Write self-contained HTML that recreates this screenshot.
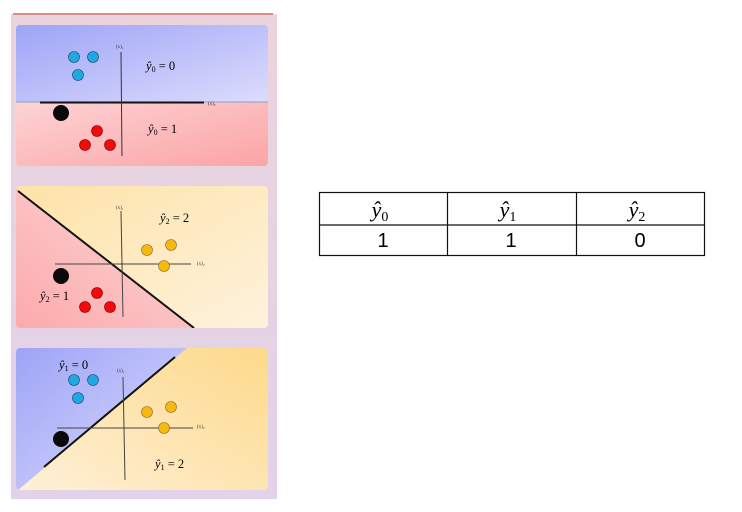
<!DOCTYPE html>
<html><head><meta charset="utf-8"><style>
body{margin:0;background:#fff;width:742px;height:512px;overflow:hidden;font-family:"Liberation Serif",serif}
svg{position:absolute;left:0;top:0}
</style></head><body>
<svg width="742" height="512">
<defs>
<linearGradient id="bg" x1="0" y1="0" x2="0" y2="1"><stop offset="0" stop-color="#ead3dc"/><stop offset="1" stop-color="#e2d3ea"/></linearGradient>
<linearGradient id="blue" x1="0" y1="0" x2="1" y2="1"><stop offset="0" stop-color="#9ea4f7"/><stop offset="1" stop-color="#dcdcfc"/></linearGradient>
<linearGradient id="pink" x1="0" y1="0" x2="1" y2="1"><stop offset="0" stop-color="#fdd3d5"/><stop offset="1" stop-color="#fca4a5"/></linearGradient>
<linearGradient id="pink2" x1="1" y1="0" x2="0" y2="1"><stop offset="0" stop-color="#fdd8da"/><stop offset="1" stop-color="#fcaaab"/></linearGradient>
<linearGradient id="yel" x1="0" y1="0" x2="1" y2="1"><stop offset="0" stop-color="#fde3a8"/><stop offset="1" stop-color="#fef2dc"/></linearGradient>
<linearGradient id="yel2" x1="0" y1="1" x2="1" y2="0"><stop offset="0" stop-color="#fef0d8"/><stop offset="1" stop-color="#fdd98a"/></linearGradient>
<clipPath id="c1"><rect x="16" y="25" width="252" height="141" rx="4"/></clipPath>
<clipPath id="c2"><rect x="16" y="186" width="252" height="142" rx="4"/></clipPath>
<clipPath id="c3"><rect x="16" y="348" width="252" height="142" rx="4"/></clipPath>
</defs>
<rect x="11" y="14" width="266" height="485" fill="url(#bg)"/>
<rect x="13" y="13" width="260" height="2" fill="#d58f8c"/>

<g clip-path="url(#c1)">
<rect x="16" y="25" width="252" height="77" fill="url(#blue)"/>
<rect x="16" y="102" width="252" height="64" fill="url(#pink)"/>
<line x1="16" y1="102" x2="268" y2="102" stroke="#8f9fc8" stroke-width="1"/>
<line x1="40" y1="102.5" x2="204" y2="102.5" stroke="#111" stroke-width="2"/>
<line x1="121" y1="52" x2="122" y2="156" stroke="#333" stroke-width="1"/>
<text x="116" y="48" font-size="5" fill="#333">(x)₁</text>
<text x="208" y="105" font-size="5" fill="#333">(x)₂</text>
<circle cx="74" cy="57" r="5.5" fill="#1fa8e3" stroke="#146" stroke-width=".6"/>
<circle cx="93" cy="57" r="5.5" fill="#1fa8e3" stroke="#146" stroke-width=".6"/>
<circle cx="78" cy="75" r="5.5" fill="#1fa8e3" stroke="#146" stroke-width=".6"/>
<circle cx="61" cy="113" r="8" fill="#0a0a0a"/>
<circle cx="97" cy="131" r="5.5" fill="#f30b0b" stroke="#700" stroke-width=".6"/>
<circle cx="85" cy="145" r="5.5" fill="#f30b0b" stroke="#700" stroke-width=".6"/>
<circle cx="110" cy="145" r="5.5" fill="#f30b0b" stroke="#700" stroke-width=".6"/>
<text x="146" y="70" font-size="12.5" font-style="italic">ŷ<tspan font-size="8" font-style="normal" dy="2">0</tspan><tspan dy="-2" font-style="normal"> = 0</tspan></text>
<text x="148" y="133" font-size="12.5" font-style="italic">ŷ<tspan font-size="8" font-style="normal" dy="2">0</tspan><tspan dy="-2" font-style="normal"> = 1</tspan></text>
</g>

<g clip-path="url(#c2)">
<rect x="16" y="186" width="252" height="142" fill="url(#yel)"/>
<polygon points="16,188 194,328 16,328" fill="url(#pink2)"/>
<line x1="18" y1="191" x2="194" y2="328" stroke="#111" stroke-width="2"/>
<line x1="55" y1="264" x2="191" y2="264" stroke="#444" stroke-width="1"/>
<line x1="121" y1="211" x2="123" y2="317" stroke="#444" stroke-width="1"/>
<text x="116" y="209" font-size="5" fill="#333">(x)₁</text>
<text x="197" y="265" font-size="5" fill="#333">(x)₂</text>
<circle cx="147" cy="250" r="5.5" fill="#f6b90c" stroke="#864" stroke-width=".6"/>
<circle cx="171" cy="245" r="5.5" fill="#f6b90c" stroke="#864" stroke-width=".6"/>
<circle cx="164" cy="266" r="5.5" fill="#f6b90c" stroke="#864" stroke-width=".6"/>
<circle cx="61" cy="276" r="8" fill="#0a0a0a"/>
<circle cx="97" cy="293" r="5.5" fill="#f30b0b" stroke="#700" stroke-width=".6"/>
<circle cx="85" cy="307" r="5.5" fill="#f30b0b" stroke="#700" stroke-width=".6"/>
<circle cx="110" cy="307" r="5.5" fill="#f30b0b" stroke="#700" stroke-width=".6"/>
<text x="160" y="222" font-size="12.5" font-style="italic">ŷ<tspan font-size="8" font-style="normal" dy="2">2</tspan><tspan dy="-2" font-style="normal"> = 2</tspan></text>
<text x="40" y="300" font-size="12.5" font-style="italic">ŷ<tspan font-size="8" font-style="normal" dy="2">2</tspan><tspan dy="-2" font-style="normal"> = 1</tspan></text>
</g>

<g clip-path="url(#c3)">
<rect x="16" y="348" width="252" height="142" fill="url(#yel2)"/>
<polygon points="16,348 187,348 18,490 16,490" fill="url(#blue)"/>
<line x1="44" y1="467" x2="175" y2="357" stroke="#111" stroke-width="2"/>
<line x1="57" y1="428" x2="193" y2="428" stroke="#444" stroke-width="1"/>
<line x1="123" y1="377" x2="125" y2="480" stroke="#444" stroke-width="1"/>
<text x="117" y="372" font-size="5" fill="#333">(x)₁</text>
<text x="197" y="428" font-size="5" fill="#333">(x)₂</text>
<circle cx="74" cy="380" r="5.5" fill="#1fa8e3" stroke="#146" stroke-width=".6"/>
<circle cx="93" cy="380" r="5.5" fill="#1fa8e3" stroke="#146" stroke-width=".6"/>
<circle cx="78" cy="398" r="5.5" fill="#1fa8e3" stroke="#146" stroke-width=".6"/>
<circle cx="147" cy="412" r="5.5" fill="#f6b90c" stroke="#864" stroke-width=".6"/>
<circle cx="171" cy="407" r="5.5" fill="#f6b90c" stroke="#864" stroke-width=".6"/>
<circle cx="164" cy="428" r="5.5" fill="#f6b90c" stroke="#864" stroke-width=".6"/>
<circle cx="61" cy="439" r="8" fill="#0a0a0a"/>
<text x="59" y="369" font-size="12.5" font-style="italic">ŷ<tspan font-size="8" font-style="normal" dy="2">1</tspan><tspan dy="-2" font-style="normal"> = 0</tspan></text>
<text x="155" y="468" font-size="12.5" font-style="italic">ŷ<tspan font-size="8" font-style="normal" dy="2">1</tspan><tspan dy="-2" font-style="normal"> = 2</tspan></text>
</g>

<g font-family="Liberation Sans, sans-serif">
<rect x="319.5" y="192.5" width="385" height="63" fill="#fff" stroke="#111" stroke-width="1.2"/>
<line x1="319.5" y1="225" x2="704.5" y2="225" stroke="#111" stroke-width="1.2"/>
<line x1="447.5" y1="192.5" x2="447.5" y2="255.5" stroke="#111" stroke-width="1.2"/>
<line x1="576.5" y1="192.5" x2="576.5" y2="255.5" stroke="#111" stroke-width="1.2"/>
<text x="380" y="217" font-size="22" font-style="italic" text-anchor="middle" font-family="Liberation Serif, serif">ŷ<tspan font-size="14" font-style="normal" dy="4">0</tspan></text>
<text x="508" y="217" font-size="22" font-style="italic" text-anchor="middle" font-family="Liberation Serif, serif">ŷ<tspan font-size="14" font-style="normal" dy="4">1</tspan></text>
<text x="637" y="217" font-size="22" font-style="italic" text-anchor="middle" font-family="Liberation Serif, serif">ŷ<tspan font-size="14" font-style="normal" dy="4">2</tspan></text>
<text x="383" y="247" font-size="20" text-anchor="middle">1</text>
<text x="511" y="247" font-size="20" text-anchor="middle">1</text>
<text x="640" y="247" font-size="20" text-anchor="middle">0</text>
</g>
</svg>
</body></html>
